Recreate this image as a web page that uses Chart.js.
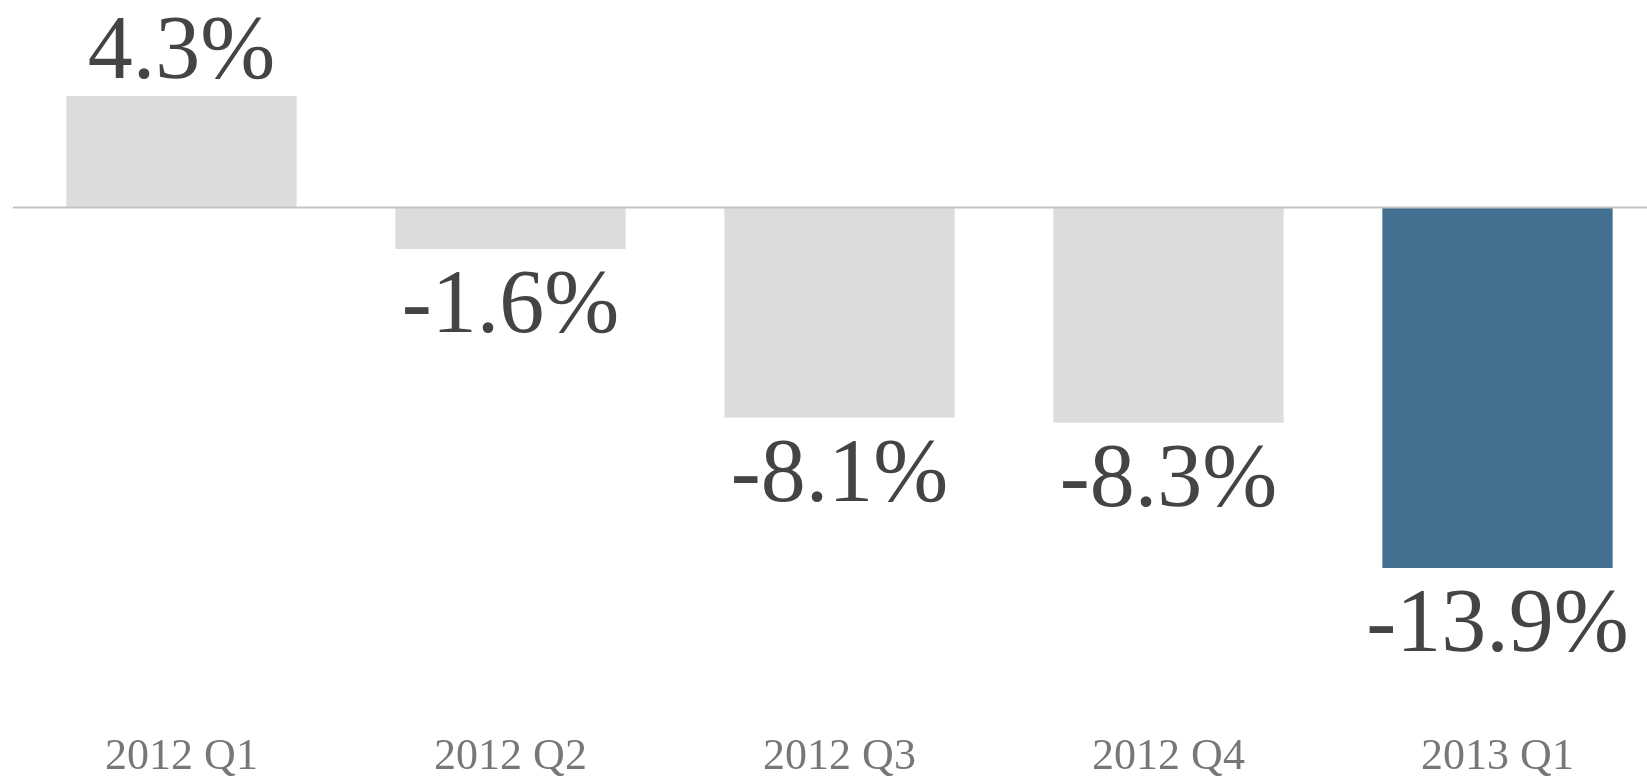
<!DOCTYPE html>
<html>
<head>
<meta charset="utf-8">
<script src="https://cdn.jsdelivr.net/npm/chart.js@4"></script>
<style>
  html, body { margin: 0; padding: 0; background: #fff; overflow: hidden; }
</style>
</head>
<body>
<canvas id="chart" width="1680" height="784"></canvas>
<script>
const quarters = ['2012 Q1', '2012 Q2', '2012 Q3', '2012 Q4', '2013 Q1'];
const changes = [4.3, -1.6, -8.1, -8.3, -13.9];
const barColors = ['#dcdcdc', '#dcdcdc', '#dcdcdc', '#dcdcdc', '#436f91'];

// zero line + value labels, positioned from the bar elements
const valueLabels = {
  id: 'valueLabels',
  afterDatasetsDraw(chart) {
    const ctx = chart.ctx;
    const y0 = chart.scales.y.getPixelForValue(0);
    ctx.save();
    ctx.strokeStyle = '#c4c4c4';
    ctx.lineWidth = 2;
    ctx.beginPath();
    ctx.moveTo(13, y0);
    ctx.lineTo(chart.width, y0);
    ctx.stroke();

    ctx.fillStyle = '#444';
    ctx.font = '90px "Liberation Serif", serif';
    ctx.textAlign = 'center';
    ctx.textBaseline = 'alphabetic';
    chart.getDatasetMeta(0).data.forEach((bar, i) => {
      const v = changes[i];
      const text = v.toFixed(1) + '%';
      const y = v >= 0 ? bar.y - 18 : bar.y + 83;
      ctx.fillText(text, bar.x, y);
    });
    ctx.restore();
  }
};

new Chart(document.getElementById('chart'), {
  type: 'bar',
  data: {
    labels: quarters,
    datasets: [{
      data: changes,
      backgroundColor: barColors,
      borderWidth: 0,
      barPercentage: 0.7,
      categoryPercentage: 1
    }]
  },
  options: {
    responsive: false,
    animation: false,
    layout: { padding: { left: 17, right: 18, top: 0, bottom: 0 } },
    plugins: {
      legend: { display: false },
      tooltip: { enabled: false }
    },
    scales: {
      x: {
        grid: { display: false, drawTicks: false },
        border: { display: false },
        ticks: {
          padding: 5,
          color: '#777',
          font: { family: '"Liberation Serif", serif', size: 44, lineHeight: 1 }
        }
      },
      y: {
        display: false,
        min: -20.15,
        max: 8
      }
    }
  },
  plugins: [valueLabels]
});
</script>
</body>
</html>
